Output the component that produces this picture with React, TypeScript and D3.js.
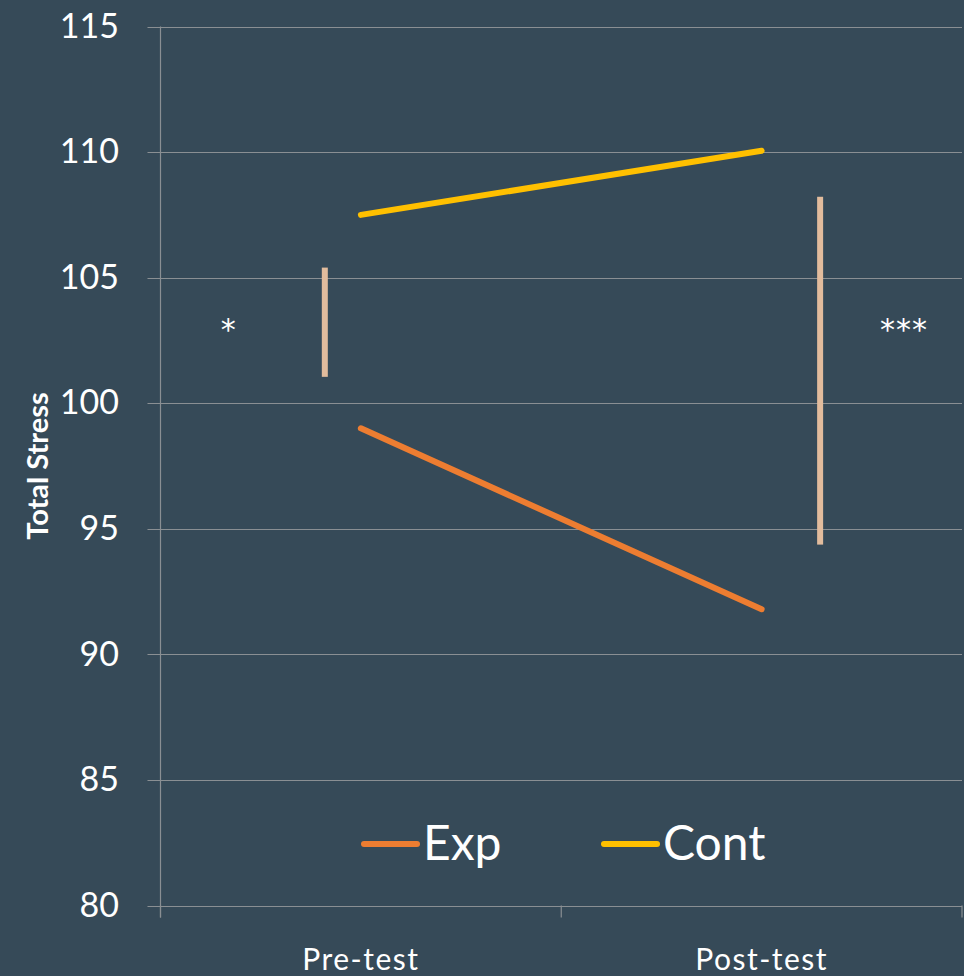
import { useRef, useEffect } from "react"
import * as d3 from "d3"

// chart data
const categories = ["Pre-test", "Post-test"]
const seriesNames = ["Exp", "Cont"]
const expValues = [99.0, 91.8]
const contValues = [107.5, 110.05]
const seriesColors = ["#ED7D31", "#FFC000"]

// significance bars: x position in category units (0..2), low, high
const sigX = [0.41, 1.646]
const sigLow = [101.05, 94.37]
const sigHigh = [105.4, 108.22]
const sigLabels = ["*", "***"]
const sigLabelX = [0.17, 1.855]
const sigLabelY = [102.5, 102.5]

const yTicks = [80, 85, 90, 95, 100, 105, 110, 115]

const App = () => {
  const svgRef = useRef<SVGSVGElement>(null)

  useEffect(() => {
    const W = 964
    const H = 976
    const bg = "#364a58"
    const font = "Lato, 'Open Sans', sans-serif"

    const root = d3.select(svgRef.current)
    root.selectAll("*").remove()
    root.attr("width", W).attr("height", H)

    root.append("rect").attr("width", W).attr("height", H).attr("fill", bg)

    const left = 160.5
    const right = 962
    const top = 26.5
    const bottom = 905.5

    const x = d3.scaleLinear().domain([0, categories.length]).range([left, right])
    const y = d3.scaleLinear().domain([80, 115]).range([bottom, top])

    // gridlines
    root
      .append("g")
      .selectAll("line")
      .data(yTicks)
      .enter()
      .append("line")
      .attr("x1", left - 13)
      .attr("x2", right)
      .attr("y1", (d) => Math.round(y(d)) + 0.5)
      .attr("y2", (d) => Math.round(y(d)) + 0.5)
      .attr("stroke", "#8a8f93")
      .attr("stroke-width", 1.2)

    // y axis line
    root
      .append("line")
      .attr("x1", left)
      .attr("x2", left)
      .attr("y1", top)
      .attr("y2", bottom + 12)
      .attr("stroke", "#8a8f93")
      .attr("stroke-width", 1.2)

    // x ticks at category boundaries
    root
      .append("g")
      .selectAll("line")
      .data(d3.range(categories.length + 1))
      .enter()
      .append("line")
      .attr("x1", (d) => x(d))
      .attr("x2", (d) => x(d))
      .attr("y1", bottom)
      .attr("y2", bottom + 12)
      .attr("stroke", "#8a8f93")
      .attr("stroke-width", 1.2)

    // y tick labels
    root
      .append("g")
      .selectAll("text")
      .data(yTicks)
      .enter()
      .append("text")
      .attr("x", 119)
      .attr("y", (d) => y(d))
      .attr("dy", "0.33em")
      .attr("text-anchor", "end")
      .attr("fill", "#fff")
      .style("font-family", font)
      .style("font-size", "34px")
      .text((d) => d)

    // x labels
    root
      .append("g")
      .selectAll("text")
      .data(categories)
      .enter()
      .append("text")
      .attr("x", (d, i) => x(i + 0.5))
      .attr("y", 970)
      .attr("text-anchor", "middle")
      .attr("fill", "#fff")
      .style("font-family", font)
      .style("font-size", "30px")
      .style("letter-spacing", "1.5px")
      .text((d) => d)

    // y axis title
    root
      .append("text")
      .attr("transform", `translate(48,${y(97.5)}) rotate(-90)`)
      .attr("text-anchor", "middle")
      .attr("fill", "#fff")
      .style("font-family", font)
      .style("font-size", "29px")
      .style("font-weight", "bold")
      .text("Total Stress")

    // significance bars
    root
      .append("g")
      .selectAll("rect")
      .data(sigX)
      .enter()
      .append("rect")
      .attr("x", (d) => x(d) - 3)
      .attr("width", 6)
      .attr("y", (d, i) => y(sigHigh[i]))
      .attr("height", (d, i) => y(sigLow[i]) - y(sigHigh[i]))
      .attr("fill", "#E2BC9D")

    root
      .append("g")
      .selectAll("text")
      .data(sigLabels)
      .enter()
      .append("text")
      .attr("x", (d, i) => x(sigLabelX[i]))
      .attr("y", (d, i) => y(sigLabelY[i]))
      .attr("text-anchor", "middle")
      .attr("fill", "#fff")
      .style("font-family", "'DejaVu Sans', sans-serif")
      .style("font-size", "30px")
      .style("letter-spacing", "1px")
      .text((d) => d)

    // series lines
    const line = d3
      .line<number>()
      .x((d, i) => x(i + 0.5))
      .y((d) => y(d))

    const series = [expValues, contValues]
    root
      .append("g")
      .selectAll("path")
      .data(series)
      .enter()
      .append("path")
      .attr("d", (d) => line(d))
      .attr("fill", "none")
      .attr("stroke", (d, i) => seriesColors[i])
      .attr("stroke-width", 6)
      .attr("stroke-linecap", "round")

    // legend
    const legendX = [364, 604]
    const legend = root
      .append("g")
      .selectAll("g")
      .data(seriesNames)
      .enter()
      .append("g")
      .attr("transform", (d, i) => `translate(${legendX[i]},844)`)

    legend
      .append("line")
      .attr("x1", 0)
      .attr("x2", 53)
      .attr("stroke", (d, i) => seriesColors[i])
      .attr("stroke-width", 6)
      .attr("stroke-linecap", "round")

    legend
      .append("text")
      .attr("x", 59)
      .attr("y", 16)
      .attr("fill", "#fff")
      .style("font-family", font)
      .style("font-size", "48px")
      .text((d) => d)
  }, [])

  return (
    <div style={{ position: "absolute", left: 0, top: 0 }}>
      <svg ref={svgRef} style={{ display: "block" }}></svg>
    </div>
  )
}

export default App
